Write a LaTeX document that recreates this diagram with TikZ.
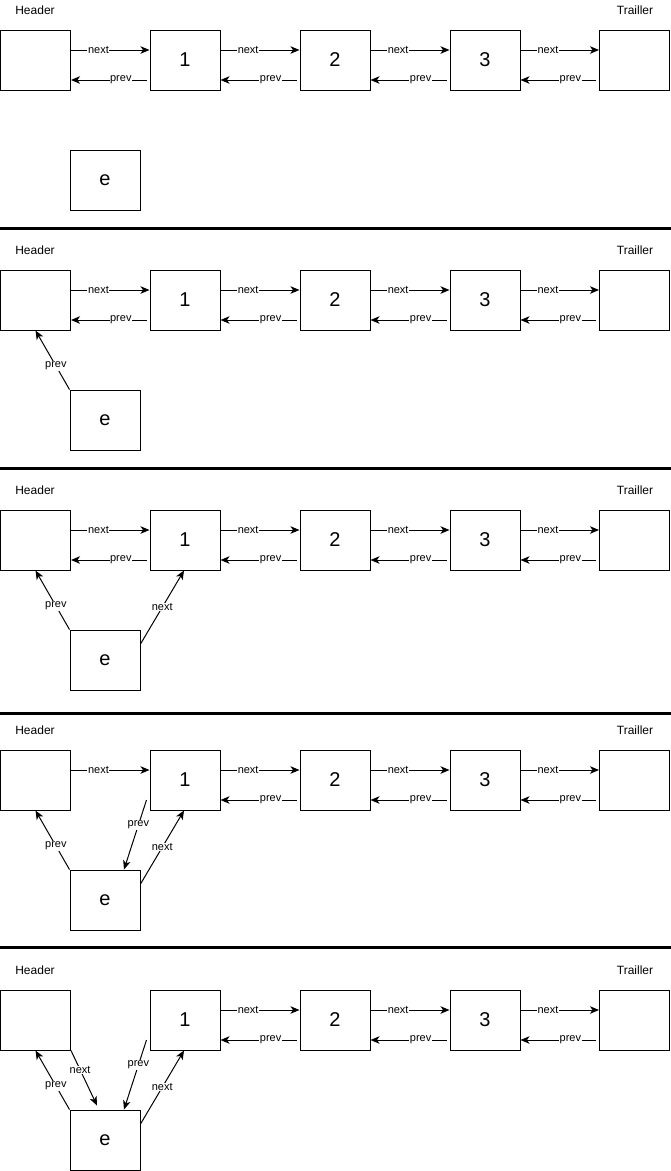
\documentclass[tikz,border=0pt]{standalone}
\usepackage{fontspec}
\setmainfont{Liberation Sans}
\usetikzlibrary{arrows.meta}
\tikzset{
  box/.style={draw, line width=1pt, minimum width=70pt, minimum height=60pt, inner sep=0pt, font=\fontsize{20}{24}\selectfont},
  title/.style={font=\fontsize{12}{14}\selectfont, inner sep=0pt},
  link/.style={line width=1pt, -{Stealth[length=9pt,width=7.5pt,inset=2.5pt]}},
  lab/.style={font=\fontsize{11}{13}\selectfont, fill=white, inner sep=0.6pt},
  sepline/.style={line width=3pt}
}
\begin{document}
\begin{tikzpicture}[x=1pt,y=-1pt]
\useasboundingbox (0,0) rectangle (671,1171);
% separators
\draw[sepline] (0,228) -- (671,228);
\draw[sepline] (0,468) -- (671,468);
\draw[sepline] (0,713) -- (671,713);
\draw[sepline] (0,947) -- (671,947);
\foreach \p/\o in {1/0,2/240,3/480,4/720,5/960}{
  \node[title] (hl\p) at (35,\o+10) {Header};
  \node[title] (tl\p) at (635,\o+10) {Trailler};
  \node[box] (H\p) at (35.5,\o+60) {};
  \node[box] (A\p) at (185,\o+60) {1};
  \node[box] (B\p) at (335,\o+60) {2};
  \node[box] (C\p) at (485,\o+60) {3};
  \node[box] (T\p) at (634.5,\o+60) {};
  \node[box] (E\p) at (105,\o+180) {e};
  % chain links 1-2-3-T
  \draw[link] ([yshift=10pt]A\p.east) -- node[lab,pos=0.35]{next} ([yshift=10pt]B\p.west);
  \draw[link] ([xshift=-3pt,yshift=-20pt]B\p.west) -- node[lab,pos=0.34]{prev} ([yshift=-20pt]A\p.east);
  \draw[link] ([yshift=10pt]B\p.east) -- node[lab,pos=0.35]{next} ([yshift=10pt]C\p.west);
  \draw[link] ([xshift=-3pt,yshift=-20pt]C\p.west) -- node[lab,pos=0.34]{prev} ([yshift=-20pt]B\p.east);
  \draw[link] ([yshift=10pt]C\p.east) -- node[lab,pos=0.35]{next} ([yshift=10pt]T\p.west);
  \draw[link] ([xshift=-3pt,yshift=-20pt]T\p.west) -- node[lab,pos=0.34]{prev} ([yshift=-20pt]C\p.east);
}
% Header <-> 1 links
\foreach \p in {1,2,3}{
  \draw[link] ([yshift=10pt]H\p.east) -- node[lab,pos=0.35]{next} ([yshift=10pt]A\p.west);
  \draw[link] ([xshift=-3pt,yshift=-20pt]A\p.west) -- node[lab,pos=0.34]{prev} ([yshift=-20pt]H\p.east);
}
\draw[link] ([yshift=10pt]H4.east) -- node[lab,pos=0.35]{next} ([yshift=10pt]A4.west);
% e -> Header prev
\foreach \p in {2,3,4,5}{
  \draw[link] (E\p.north west) -- node[lab,pos=0.4]{prev} (H\p.south);
}
% e -> 1 next
\foreach \p in {3,4,5}{
  \draw[link] ([yshift=16pt]E\p.east) -- node[lab,pos=0.5]{next} ([xshift=-1pt]A\p.south);
}
% 1 -> e prev
\foreach \p in {4,5}{
  \draw[link] ([xshift=-3pt,yshift=-20pt]A\p.west) -- node[lab,pos=0.36]{prev} ([xshift=19pt]E\p.north);
}
% Header -> e next
\draw[link] (H5.south east) -- node[lab,pos=0.35]{next} ([xshift=-8pt,yshift=4pt]E5.north);
\end{tikzpicture}
\end{document}
